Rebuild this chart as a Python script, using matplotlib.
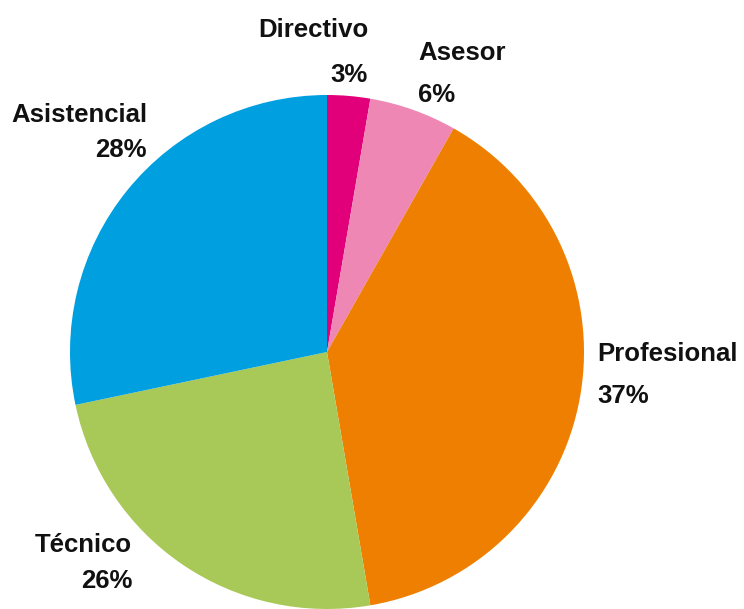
import matplotlib
matplotlib.use("Agg")
import matplotlib.pyplot as plt

# Data (clockwise from 12 o'clock)
categories = ["Directivo", "Asesor", "Profesional", "Técnico", "Asistencial"]
shares = [2.7, 5.5, 39.1, 24.4, 28.3]          # slice sizes as drawn
pct_labels = ["3%", "6%", "37%", "26%", "28%"]  # printed percentages
colors = ["#E2007A", "#EE87B4", "#EE7F00", "#A8C957", "#009FE0"]

W, H = 744, 609
fig = plt.figure(figsize=(W / 100, H / 100), dpi=100)
ax = fig.add_axes([0, 0, 1, 1])

cx, cy, r = 327, H - 352, 257
ax.pie(shares, colors=colors, startangle=90, counterclock=False,
       center=(cx, cy), radius=r, wedgeprops=dict(linewidth=0))
ax.set_xlim(0, W)
ax.set_ylim(0, H)
ax.set_aspect("equal")
ax.axis("off")

# label placement: (x px, name baseline px, pct baseline px, alignment)
label_pos = {
    "Directivo": (368, 37, 82, "right"),
    "Asesor": (418, 60, 102, "left"),
    "Profesional": (597, 361, 403, "left"),
    "Técnico": (132, 552, 588, "right"),
    "Asistencial": (147, 122, 157, "right"),
}
font = dict(family=["Liberation Sans", "DejaVu Sans"], weight="bold",
            size=18.5, color="#111111")
for cat, pct in zip(categories, pct_labels):
    x, y1, y2, ha = label_pos[cat]
    ax.text(x, H - y1, cat, ha=ha, va="baseline", **font)
    ax.text(x, H - y2, pct, ha=ha, va="baseline", **font)

fig.savefig("out.png", dpi=100)
